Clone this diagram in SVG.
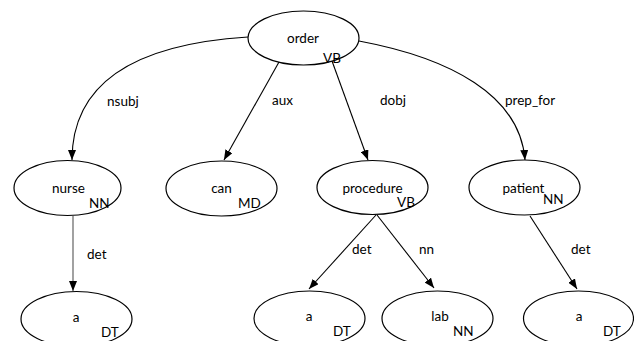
<svg xmlns="http://www.w3.org/2000/svg" width="634" height="341" viewBox="0 0 634 341">
<defs>
<marker id="arr" viewBox="0 0 10 8" refX="10" refY="4" markerWidth="10" markerHeight="8" orient="auto" markerUnits="userSpaceOnUse">
<path d="M0,0 L10,4 L0,8 z" fill="#000"/>
</marker>
<style>
.n{fill:#fff;stroke:#000;stroke-width:1.2}
.e{fill:none;stroke:#000;stroke-width:1.1;marker-end:url(#arr)}
text{font-family:Lato,"Liberation Sans",sans-serif;font-size:13.5px;fill:#000}
.w{text-anchor:middle}
</style>
</defs>
<rect width="634" height="341" fill="#fff"/>
<g id="edges">
<path class="e" d="M248,37 Q72,48 72,160"/>
<path class="e" d="M279,62 L224,160"/>
<path class="e" d="M332,61 L368,160"/>
<path class="e" d="M359,41 C450,58 520,95 525,160"/>
<path class="e" d="M73,216 L73,291" style="stroke:#555"/>
<path class="e" d="M376,215 L309,289"/>
<path class="e" d="M377,215 L434,288"/>
<path class="e" d="M530,216 L577,289"/>
<text x="107" y="106">nsubj</text>
<text x="272" y="105">aux</text>
<text x="380" y="105">dobj</text>
<text x="505" y="105">prep_for</text>
<text x="87" y="259">det</text>
<text x="352" y="254">det</text>
<text x="419" y="254">nn</text>
<text x="571" y="254">det</text>
</g>
<g id="order"><ellipse class="n" cx="303.5" cy="38" rx="55.5" ry="27"/><text class="w" x="303" y="43">order</text><text x="323" y="63">VB</text></g>
<g id="nurse"><ellipse class="n" cx="67.5" cy="188" rx="53.5" ry="27.5"/><text class="w" x="68.5" y="193">nurse</text><text x="89" y="208">NN</text></g>
<g id="can"><ellipse class="n" cx="221.5" cy="188.5" rx="55.5" ry="27.5"/><text class="w" x="221.5" y="193">can</text><text x="238" y="208">MD</text></g>
<g id="procedure"><ellipse class="n" cx="372.5" cy="187.5" rx="55.5" ry="27"/><text class="w" x="372.5" y="193">procedure</text><text x="397" y="207">VB</text></g>
<g id="patient"><ellipse class="n" cx="524.5" cy="187.5" rx="55.5" ry="27.5"/><text class="w" x="523.5" y="193">patient</text><text x="543" y="204">NN</text></g>
<g id="a1"><ellipse class="n" cx="76.5" cy="319" rx="55.5" ry="27.5"/><text class="w" x="76" y="322">a</text><text x="101" y="337">DT</text></g>
<g id="a2"><ellipse class="n" cx="309.5" cy="318.5" rx="55.5" ry="27.5"/><text class="w" x="309" y="321">a</text><text x="333" y="336">DT</text></g>
<g id="lab"><ellipse class="n" cx="437.5" cy="318.5" rx="55.5" ry="27.5"/><text class="w" x="440" y="321">lab</text><text x="453" y="336">NN</text></g>
<g id="a3"><ellipse class="n" cx="578.5" cy="318.5" rx="55" ry="27.5"/><text class="w" x="579" y="321">a</text><text x="603" y="336">DT</text></g>
</svg>
